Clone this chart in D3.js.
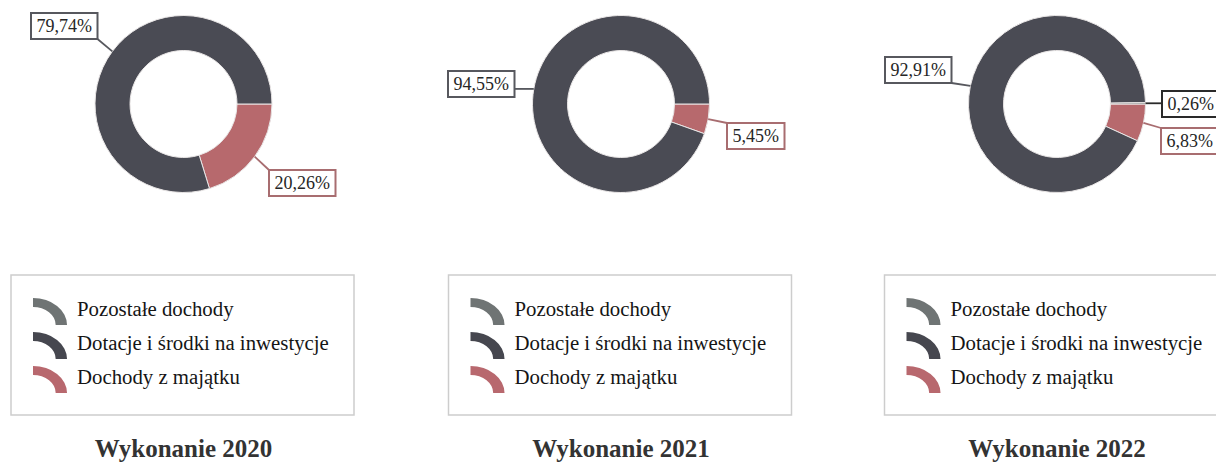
<!DOCTYPE html>
<html>
<head>
<meta charset="utf-8">
<script src="https://cdn.jsdelivr.net/npm/d3@7/dist/d3.min.js"></script>
<style>
  html, body { margin: 0; padding: 0; background: #ffffff; }
  svg { display: block; }
</style>
</head>
<body>
<svg id="chart" width="1216" height="463"></svg>
<script>
// ---- data ----
const titles = ["Wykonanie 2020", "Wykonanie 2021", "Wykonanie 2022"];
const categories = ["Pozostałe dochody", "Dotacje i środki na inwestycje", "Dochody z majątku"];
const pozostale = [0, 0, 0.26];
const dotacje = [79.74, 94.55, 92.91];
const majatek = [20.26, 5.45, 6.83];
const valueLabels = [
  ["0,00%", "79,74%", "20,26%"],
  ["0,00%", "94,55%", "5,45%"],
  ["0,26%", "92,91%", "6,83%"]
];

// ---- styles / layout ----
const sliceColors = ["#6e7373", "#4a4b54", "#b7696d"];
const swatchColors = ["#6f7474", "#46474f", "#b8686e"];
const boxStroke = ["#2a2a2a", "#57585e", "#a86d70"];
const centersX = [183.5, 621, 1057];
const cy = 104;
const outerR = 88.5, innerR = 53.5;
// label box top-left, relative to donut centre: [category index] -> [dx, dy]
const labelBoxPos = [
  { 1: [-152.5, -91], 2: [85.5, 66] },
  { 1: [-173, -33], 2: [106, 19] },
  { 0: [105, -13], 1: [-172, -47], 2: [104, 24] }
];

const svg = d3.select("#chart");
const serif = "'Liberation Serif', 'Times New Roman', serif";

// clockwise from 3 o'clock: majątek, dotacje, pozostałe
const drawOrder = [2, 1, 0];
const pie = d3.pie()
  .sort(null)
  .value(d => d.value)
  .startAngle(Math.PI / 2)
  .endAngle(Math.PI / 2 + 2 * Math.PI);
const arc = d3.arc().innerRadius(innerR).outerRadius(outerR);

titles.forEach((title, i) => {
  const cx = centersX[i];
  const vals = [pozostale[i], dotacje[i], majatek[i]];
  const data = drawOrder.map(c => ({ cat: c, value: vals[c] }));
  const arcs = pie(data);

  const g = svg.append("g").attr("transform", `translate(${cx},${cy})`);
  g.selectAll("path.slice")
    .data(arcs.filter(a => a.data.value > 0))
    .join("path")
    .attr("class", "slice")
    .attr("d", arc)
    .attr("fill", d => sliceColors[d.data.cat])
    .attr("stroke", "#e9e6e6")
    .attr("stroke-width", 1);

  // labels with leader lines
  arcs.filter(a => a.data.value > 0).forEach(a => {
    const c = a.data.cat;
    const pos = labelBoxPos[i][c];
    if (!pos) return;
    const mid = (a.startAngle + a.endAngle) / 2;
    const px = Math.sin(mid) * outerR, py = -Math.cos(mid) * outerR;

    const lg = g.append("g");
    const txt = lg.append("text")
      .attr("font-family", serif)
      .attr("font-size", 18)
      .attr("fill", "#262626")
      .attr("text-anchor", "middle")
      .text(valueLabels[i][c]);
    const tw = txt.node().getComputedTextLength();
    const bw = tw + 11, bh = 26;
    const bx = pos[0], by = pos[1];
    txt.attr("x", bx + bw / 2).attr("y", by + 19);
    lg.insert("rect", "text")
      .attr("x", bx).attr("y", by)
      .attr("width", bw).attr("height", bh)
      .attr("fill", "#fff")
      .attr("stroke", boxStroke[c])
      .attr("stroke-width", 2);
    const ex = Math.max(bx, Math.min(bx + bw, px));
    const ey = Math.max(by, Math.min(by + bh, py));
    g.insert("line", "g")
      .attr("x1", px).attr("y1", py)
      .attr("x2", ex).attr("y2", ey)
      .attr("stroke", boxStroke[c])
      .attr("stroke-width", 1.8);
  });

  // legend
  const lx = cx - 172.5, ly = 275;
  const leg = svg.append("g").attr("transform", `translate(${lx},${ly})`);
  leg.append("rect")
    .attr("x", 0).attr("y", 0)
    .attr("width", 343).attr("height", 140)
    .attr("fill", "none")
    .attr("stroke", "#cdcdcd")
    .attr("stroke-width", 1.5);
  const swArc = d3.arc().innerRadius(18).outerRadius(27).startAngle(0).endAngle(Math.PI / 2);
  categories.forEach((name, k) => {
    const base = 41 + k * 34;
    leg.append("path")
      .attr("d", swArc())
      .attr("transform", `translate(22,${base + 9}) scale(1.26,1)`)
      .attr("fill", swatchColors[k]);
    leg.append("text")
      .attr("x", 66).attr("y", base)
      .attr("font-family", serif)
      .attr("font-size", 20.8)
      .attr("fill", "#151515")
      .text(name);
  });

  // title
  svg.append("text")
    .attr("x", cx).attr("y", 457)
    .attr("text-anchor", "middle")
    .attr("font-family", serif)
    .attr("font-weight", "bold")
    .attr("font-size", 25)
    .attr("fill", "#333")
    .text(title);
});
</script>
</body>
</html>
